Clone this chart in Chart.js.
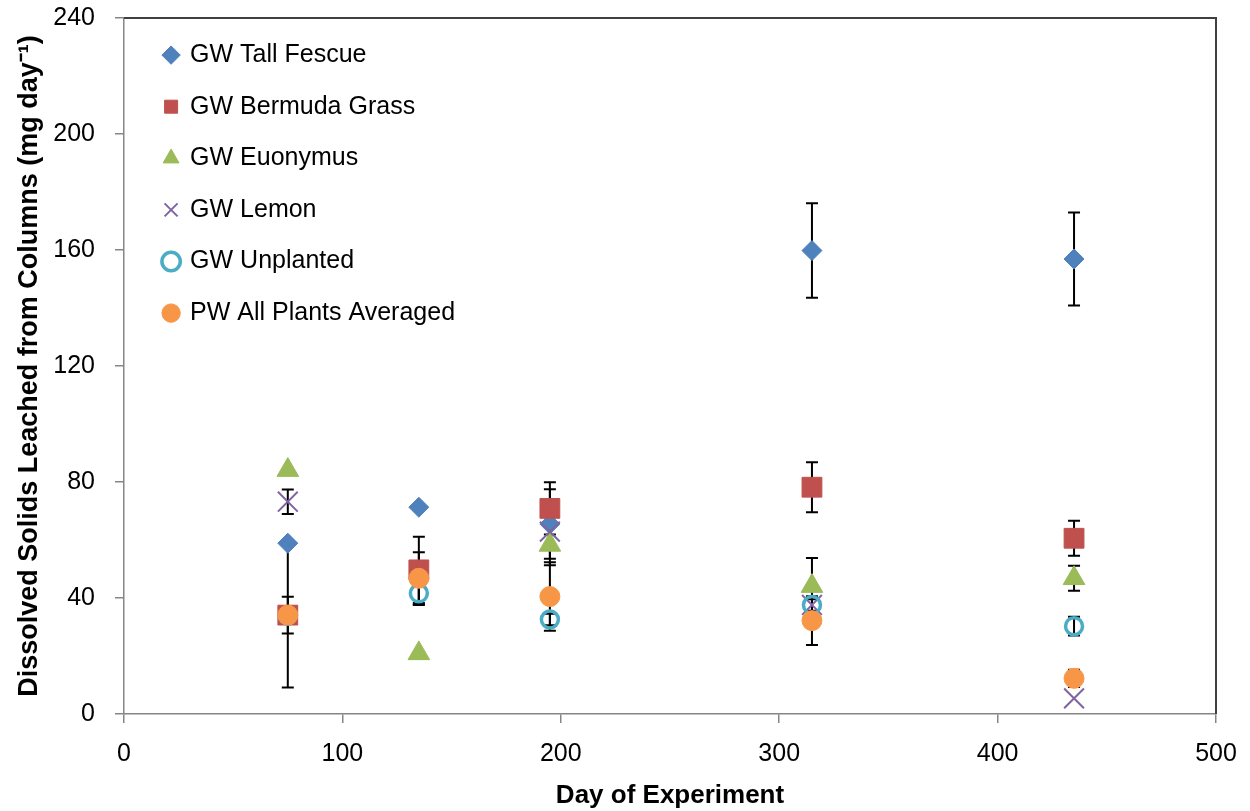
<!DOCTYPE html>
<html>
<head>
<meta charset="utf-8">
<script src="https://cdn.jsdelivr.net/npm/chart.js@4.4.1/dist/chart.umd.min.js"></script>
<style>
  html, body { margin: 0; padding: 0; background: #fff; }
  #wrap { width: 1250px; height: 811px; position: relative; }
</style>
</head>
<body>
<div id="wrap"><canvas id="myChart"></canvas></div>
<script>
// data
const days = [75, 135, 195, 315, 435];
const seriesNames = ['GW Tall Fescue', 'GW Bermuda Grass', 'GW Euonymus', 'GW Lemon', 'GW Unplanted', 'PW All Plants Averaged'];

const tallFescue = [58.9, 71.3, 65.5, 159.8, 156.9];
const tallFescueErr = [0, 0, 12, 16.3, 16];
const bermudaGrass = [34.1, 49.7, 70.9, 78.2, 60.6];
const bermudaGrassErr = [25, 11.4, 9, 8.6, 6];
const euonymus = [84.1, 20.9, 58.3, 44.1, 46.8];
const euonymusErr = [0, 0, 7, 9.7, 4.3];
const lemon = [73.2, null, 62.9, 37.6, 5.4];
const lemonErr = [4.2, 0, 0, 0, 0];
const unplanted = [34, 41.6, 32.6, 37.6, 30.3];
const unplantedErr = [0, 4, 2, 2, 3.2];
const pwAveraged = [34.1, 46.8, 40.5, 32.2, 12.3];
const pwAveragedErr = [6.3, 9, 11.8, 8.4, 3];

const xTicks = [0, 100, 200, 300, 400, 500];
const yTicks = [0, 40, 80, 120, 160, 200, 240];

const toPoints = (vals) => days.map((d, i) => ({ x: d, y: vals[i] }));

// error bars, drawn under the markers
const errorBars = {
    id: 'errorBars',
    beforeDatasetsDraw(chart) {
        const ctx = chart.ctx;
        const xs = chart.scales.x;
        const ys = chart.scales.y;
        ctx.save();
        ctx.strokeStyle = '#000';
        ctx.lineWidth = 2;
        chart.data.datasets.forEach(ds => {
            ds.data.forEach((p, i) => {
                const e = ds.errors[i];
                if (p.y == null || !e) return;
                const px = xs.getPixelForValue(p.x);
                const top = ys.getPixelForValue(p.y + e);
                const bot = ys.getPixelForValue(p.y - e);
                ctx.beginPath();
                ctx.moveTo(px, top); ctx.lineTo(px, bot);
                ctx.moveTo(px - 6, top); ctx.lineTo(px + 6, top);
                ctx.moveTo(px - 6, bot); ctx.lineTo(px + 6, bot);
                ctx.stroke();
            });
        });
        ctx.restore();
    }
};

// top and right edges of the plot box
const plotFrame = {
    id: 'plotFrame',
    beforeDatasetsDraw(chart) {
        const { ctx, chartArea } = chart;
        ctx.save();
        ctx.strokeStyle = '#404040';
        ctx.lineWidth = 2;
        ctx.beginPath();
        ctx.moveTo(chartArea.left, chartArea.top);
        ctx.lineTo(chartArea.right, chartArea.top);
        ctx.lineTo(chartArea.right, chartArea.bottom);
        ctx.stroke();
        ctx.restore();
    }
};

// move the legend to the upper left inside the plot
const legendSpot = {
    id: 'legendSpot',
    afterLayout(chart) {
        const lg = chart.legend;
        const w = lg.width, h = lg.height;
        lg.left = 138;
        lg.top = 16;
        lg.right = lg.left + w;
        lg.bottom = lg.top + h;
    }
};

const styles = [
    { color: '#4F81BD', pointStyle: 'rectRot', radius: 10 },
    { color: '#C0504D', pointStyle: 'rect', radius: 14 },
    { color: '#9BBB59', pointStyle: 'triangle', radius: 12.5 },
    { color: '#8064A2', pointStyle: 'crossRot', radius: 14 },
    { color: '#4BACC6', pointStyle: 'circle', radius: 8.5 },
    { color: '#F79646', pointStyle: 'circle', radius: 10 }
];
const values = [tallFescue, bermudaGrass, euonymus, lemon, unplanted, pwAveraged];
const errors = [tallFescueErr, bermudaGrassErr, euonymusErr, lemonErr, unplantedErr, pwAveragedErr];

const datasets = seriesNames.map((name, i) => {
    const s = styles[i];
    const hollow = i === 4;
    const cross = i === 3;
    return {
        label: name,
        data: toPoints(values[i]),
        errors: errors[i],
        showLine: false,
        order: seriesNames.length - i,
        pointStyle: s.pointStyle,
        pointRadius: s.radius,
        pointHoverRadius: s.radius,
        pointBackgroundColor: hollow || cross ? 'rgba(0,0,0,0)' : s.color,
        pointBorderColor: s.color,
        pointBorderWidth: hollow ? 3.5 : (cross ? 2 : 1),
        backgroundColor: hollow || cross ? 'rgba(0,0,0,0)' : s.color,
        borderColor: s.color
    };
});

const tickFont = { family: 'Liberation Sans, Arial, sans-serif', size: 25 };

new Chart(document.getElementById('myChart'), {
    type: 'scatter',
    data: { datasets },
    plugins: [errorBars, plotFrame, legendSpot],
    options: {
        responsive: true,
        maintainAspectRatio: false,
        animation: false,
        layout: { padding: { left: 0, top: 18, right: 34, bottom: 0 } },
        plugins: {
            tooltip: { enabled: false },
            legend: {
                position: 'chartArea',
                align: 'start',
                labels: {
                    usePointStyle: true,
                    boxWidth: 13,
                    boxHeight: 13,
                    padding: 26.6,
                    color: '#000',
                    font: { family: 'Liberation Sans, Arial, sans-serif', size: 25 },
                    sort: (a, b) => a.datasetIndex - b.datasetIndex
                }
            }
        },
        scales: {
            x: {
                type: 'linear',
                min: xTicks[0],
                max: xTicks[xTicks.length - 1],
                afterBuildTicks: (scale) => { scale.ticks = xTicks.map(v => ({ value: v })); },
                afterFit: (scale) => { scale.height = 97; scale.paddingLeft = 0; scale.paddingRight = 0; },
                border: { color: '#868686', width: 1.5 },
                grid: { drawOnChartArea: false, drawTicks: true, tickLength: 9, color: '#868686', lineWidth: 1.5 },
                ticks: { color: '#000', font: tickFont, padding: 16, maxRotation: 0 },
                title: { display: true, text: 'Day of Experiment', color: '#000',
                    font: { family: 'Liberation Sans, Arial, sans-serif', size: 26, weight: 'bold' }, padding: { top: 0, bottom: 0 } }
            },
            y: {
                type: 'linear',
                min: yTicks[0],
                max: yTicks[yTicks.length - 1],
                afterBuildTicks: (scale) => { scale.ticks = yTicks.map(v => ({ value: v })); },
                afterFit: (scale) => { scale.width = 124; scale.paddingTop = 0; scale.paddingBottom = 0; },
                border: { color: '#868686', width: 1.5 },
                grid: { drawOnChartArea: false, drawTicks: true, tickLength: 9, color: '#868686', lineWidth: 1.5 },
                ticks: { color: '#000', font: tickFont, padding: 20 },
                title: { display: true, text: 'Dissolved Solids Leached from Columns (mg day\u207B\u00B9)', color: '#000',
                    font: { family: 'Liberation Sans, Arial, sans-serif', size: 27, weight: 'bold' }, padding: { top: 13, bottom: 0 } }
            }
        }
    }
});
</script>
</body>
</html>
